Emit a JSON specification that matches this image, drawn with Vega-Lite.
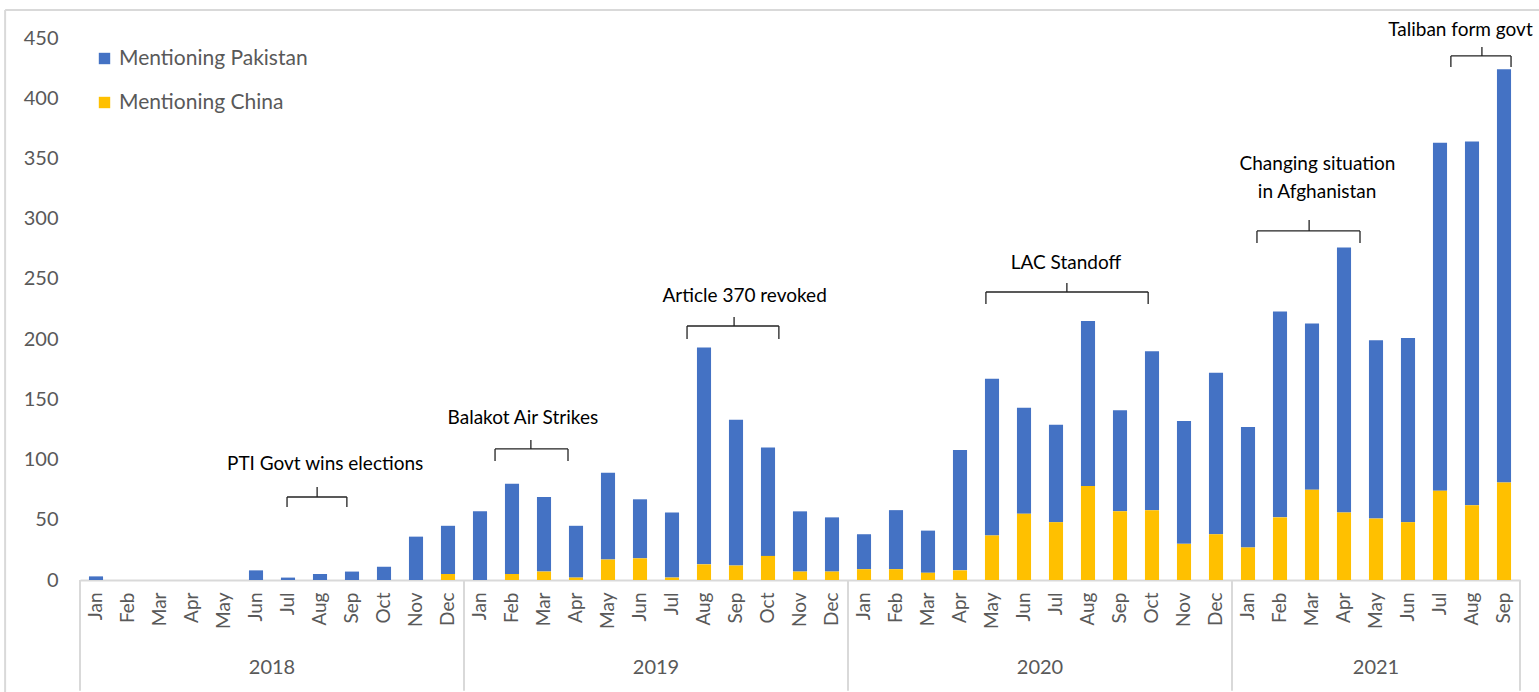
{
  "$schema": "https://vega.github.io/schema/vega-lite/v6.json",
  "width": 1440,
  "height": 542,
  "autosize": {"type": "none"},
  "padding": {"left": 80, "top": 38, "right": 19, "bottom": 112},
  "background": "white",
  "config": {"view": {"stroke": null}, "font": "Lato", "axis": {"grid": false}},
  "datasets": {
    "monthly": [
      {"ym": "2018-Jan", "Mentioning Pakistan": 3, "Mentioning China": 0},
      {"ym": "2018-Feb", "Mentioning Pakistan": 0, "Mentioning China": 0},
      {"ym": "2018-Mar", "Mentioning Pakistan": 0, "Mentioning China": 0},
      {"ym": "2018-Apr", "Mentioning Pakistan": 0, "Mentioning China": 0},
      {"ym": "2018-May", "Mentioning Pakistan": 0, "Mentioning China": 0},
      {"ym": "2018-Jun", "Mentioning Pakistan": 8, "Mentioning China": 0},
      {"ym": "2018-Jul", "Mentioning Pakistan": 2, "Mentioning China": 0},
      {"ym": "2018-Aug", "Mentioning Pakistan": 5, "Mentioning China": 0},
      {"ym": "2018-Sep", "Mentioning Pakistan": 7, "Mentioning China": 0},
      {"ym": "2018-Oct", "Mentioning Pakistan": 11, "Mentioning China": 0},
      {"ym": "2018-Nov", "Mentioning Pakistan": 36, "Mentioning China": 0},
      {"ym": "2018-Dec", "Mentioning Pakistan": 40, "Mentioning China": 5},
      {"ym": "2019-Jan", "Mentioning Pakistan": 57, "Mentioning China": 0},
      {"ym": "2019-Feb", "Mentioning Pakistan": 75, "Mentioning China": 5},
      {"ym": "2019-Mar", "Mentioning Pakistan": 62, "Mentioning China": 7},
      {"ym": "2019-Apr", "Mentioning Pakistan": 43, "Mentioning China": 2},
      {"ym": "2019-May", "Mentioning Pakistan": 72, "Mentioning China": 17},
      {"ym": "2019-Jun", "Mentioning Pakistan": 49, "Mentioning China": 18},
      {"ym": "2019-Jul", "Mentioning Pakistan": 54, "Mentioning China": 2},
      {"ym": "2019-Aug", "Mentioning Pakistan": 180, "Mentioning China": 13},
      {"ym": "2019-Sep", "Mentioning Pakistan": 121, "Mentioning China": 12},
      {"ym": "2019-Oct", "Mentioning Pakistan": 90, "Mentioning China": 20},
      {"ym": "2019-Nov", "Mentioning Pakistan": 50, "Mentioning China": 7},
      {"ym": "2019-Dec", "Mentioning Pakistan": 45, "Mentioning China": 7},
      {"ym": "2020-Jan", "Mentioning Pakistan": 29, "Mentioning China": 9},
      {"ym": "2020-Feb", "Mentioning Pakistan": 49, "Mentioning China": 9},
      {"ym": "2020-Mar", "Mentioning Pakistan": 35, "Mentioning China": 6},
      {"ym": "2020-Apr", "Mentioning Pakistan": 100, "Mentioning China": 8},
      {"ym": "2020-May", "Mentioning Pakistan": 130, "Mentioning China": 37},
      {"ym": "2020-Jun", "Mentioning Pakistan": 88, "Mentioning China": 55},
      {"ym": "2020-Jul", "Mentioning Pakistan": 81, "Mentioning China": 48},
      {"ym": "2020-Aug", "Mentioning Pakistan": 137, "Mentioning China": 78},
      {"ym": "2020-Sep", "Mentioning Pakistan": 84, "Mentioning China": 57},
      {"ym": "2020-Oct", "Mentioning Pakistan": 132, "Mentioning China": 58},
      {"ym": "2020-Nov", "Mentioning Pakistan": 102, "Mentioning China": 30},
      {"ym": "2020-Dec", "Mentioning Pakistan": 134, "Mentioning China": 38},
      {"ym": "2021-Jan", "Mentioning Pakistan": 100, "Mentioning China": 27},
      {"ym": "2021-Feb", "Mentioning Pakistan": 171, "Mentioning China": 52},
      {"ym": "2021-Mar", "Mentioning Pakistan": 138, "Mentioning China": 75},
      {"ym": "2021-Apr", "Mentioning Pakistan": 220, "Mentioning China": 56},
      {"ym": "2021-May", "Mentioning Pakistan": 148, "Mentioning China": 51},
      {"ym": "2021-Jun", "Mentioning Pakistan": 153, "Mentioning China": 48},
      {"ym": "2021-Jul", "Mentioning Pakistan": 289, "Mentioning China": 74},
      {"ym": "2021-Aug", "Mentioning Pakistan": 302, "Mentioning China": 62},
      {"ym": "2021-Sep", "Mentioning Pakistan": 343, "Mentioning China": 81}
    ],
    "brackets": [
      {"x1": 5.97, "x2": 5.97, "y1": 60.6, "y2": 68.9},
      {"x1": 5.97, "x2": 7.84, "y1": 68.9, "y2": 68.9},
      {"x1": 7.84, "x2": 7.84, "y1": 60.6, "y2": 68.9},
      {"x1": 6.91, "x2": 6.91, "y1": 68.9, "y2": 77.2},
      {"x1": 12.47, "x2": 12.47, "y1": 98.8, "y2": 108.8},
      {"x1": 12.47, "x2": 14.75, "y1": 108.8, "y2": 108.8},
      {"x1": 14.75, "x2": 14.75, "y1": 98.8, "y2": 108.8},
      {"x1": 13.59, "x2": 13.59, "y1": 108.8, "y2": 116.2},
      {"x1": 18.47, "x2": 18.47, "y1": 200.1, "y2": 210.9},
      {"x1": 18.47, "x2": 21.34, "y1": 210.9, "y2": 210.9},
      {"x1": 21.34, "x2": 21.34, "y1": 200.1, "y2": 210.9},
      {"x1": 19.94, "x2": 19.94, "y1": 210.9, "y2": 218.4},
      {"x1": 27.81, "x2": 27.81, "y1": 229.2, "y2": 239.1},
      {"x1": 27.81, "x2": 32.88, "y1": 239.1, "y2": 239.1},
      {"x1": 32.88, "x2": 32.88, "y1": 229.2, "y2": 239.1},
      {"x1": 30.34, "x2": 30.34, "y1": 239.1, "y2": 246.6},
      {"x1": 36.28, "x2": 36.28, "y1": 279.8, "y2": 289.8},
      {"x1": 36.28, "x2": 39.5, "y1": 289.8, "y2": 289.8},
      {"x1": 39.5, "x2": 39.5, "y1": 279.8, "y2": 289.8},
      {"x1": 37.91, "x2": 37.91, "y1": 289.8, "y2": 298.9},
      {"x1": 42.34, "x2": 42.34, "y1": 425.9, "y2": 435.1},
      {"x1": 42.34, "x2": 44.22, "y1": 435.1, "y2": 435.1},
      {"x1": 44.22, "x2": 44.22, "y1": 425.9, "y2": 435.1},
      {"x1": 43.31, "x2": 43.31, "y1": 435.1, "y2": 442.5}
    ],
    "labels": [
      {"pos": 7.16, "level": 96.3, "text": "PTI Govt wins elections"},
      {"pos": 13.34, "level": 134.5, "text": "Balakot Air Strikes"},
      {"pos": 20.27, "level": 235.8, "text": "Article 370 revoked"},
      {"pos": 30.31, "level": 263.2, "text": "LAC Standoff"},
      {"pos": 38.17, "level": 345.4, "text": "Changing situation"},
      {"pos": 38.16, "level": 322.1, "text": "in Afghanistan"},
      {"pos": 42.64, "level": 456.6, "text": "Taliban form govt"}
    ],
    "separators": [
      {"pos": -0.5}, {"pos": 11.5}, {"pos": 23.5}, {"pos": 35.5}, {"pos": 44.5}
    ],
    "years": [
      {"pos": 5.5, "year": "2018"},
      {"pos": 17.5, "year": "2019"},
      {"pos": 29.5, "year": "2020"},
      {"pos": 40, "year": "2021"}
    ],
    "frame": [
      {"x1": -2.84, "x2": 45.2, "y1": 473.3, "y2": 473.3},
      {"x1": -2.84, "x2": -2.84, "y1": 473.3, "y2": -95}
    ]
  },
  "resolve": {"scale": {"x": "independent"}, "axis": {"x": "independent"}},
  "layer": [
    {
      "data": {"name": "monthly"},
      "transform": [{"fold": ["Mentioning Pakistan", "Mentioning China"], "as": ["series", "count"]}],
      "mark": {"type": "bar"},
      "encoding": {
        "x": {
          "field": "ym", "type": "nominal", "sort": null,
          "scale": {"paddingInner": 0.56, "paddingOuter": 0.28},
          "axis": {"title": null, "labelExpr": "substring(datum.value, 5)", "labelAngle": -90, "labelFontSize": 19, "labelColor": "#595959", "labelFont": "Lato", "labelPadding": 12, "ticks": false, "domainColor": "#d9d9d9", "domainWidth": 2}
        },
        "y": {
          "field": "count", "type": "quantitative", "stack": "zero",
          "scale": {"domain": [0, 450], "nice": false},
          "axis": {"title": null, "values": [0, 50, 100, 150, 200, 250, 300, 350, 400, 450], "labelFontSize": 20, "labelColor": "#595959", "labelFont": "Lato", "domain": false, "ticks": false, "labelPadding": 22}
        },
        "color": {
          "field": "series", "type": "nominal",
          "sort": ["Mentioning Pakistan", "Mentioning China"],
          "scale": {"domain": ["Mentioning Pakistan", "Mentioning China"], "range": ["#4472C4", "#FFC000"]},
          "legend": {"title": null, "orient": "none", "legendX": 14, "legendY": 10, "direction": "vertical", "symbolType": "square", "symbolSize": 130, "symbolStrokeWidth": 0, "labelFontSize": 21, "labelColor": "#595959", "labelFont": "Lato", "labelLimit": 0, "rowPadding": 22, "labelOffset": 4}
        },
        "order": {"field": "series", "sort": "ascending"}
      }
    },
    {
      "data": {"name": "separators"},
      "mark": {"type": "rule", "color": "#d9d9d9", "strokeWidth": 2},
      "encoding": {
        "x": {"field": "pos", "type": "quantitative", "scale": {"domain": [-0.5, 44.5], "nice": false, "zero": false}, "axis": null},
        "y": {"datum": 0, "type": "quantitative"},
        "y2": {"datum": -92}
      }
    },
    {
      "data": {"name": "brackets"},
      "mark": {"type": "rule", "color": "#222222", "strokeWidth": 1.3},
      "encoding": {
        "x": {"field": "x1", "type": "quantitative", "scale": {"domain": [-0.5, 44.5], "nice": false, "zero": false}, "axis": null},
        "x2": {"field": "x2"},
        "y": {"field": "y1", "type": "quantitative"},
        "y2": {"field": "y2"}
      }
    },
    {
      "data": {"name": "labels"},
      "mark": {"type": "text", "align": "center", "baseline": "middle", "fontSize": 19, "font": "Lato", "color": "#000000"},
      "encoding": {
        "x": {"field": "pos", "type": "quantitative", "scale": {"domain": [-0.5, 44.5], "nice": false, "zero": false}, "axis": null},
        "y": {"field": "level", "type": "quantitative"},
        "text": {"field": "text"}
      }
    },
    {
      "data": {"name": "years"},
      "mark": {"type": "text", "align": "center", "baseline": "middle", "fontSize": 20, "font": "Lato", "color": "#595959"},
      "encoding": {
        "x": {"field": "pos", "type": "quantitative", "scale": {"domain": [-0.5, 44.5], "nice": false, "zero": false}, "axis": null},
        "y": {"datum": -73, "type": "quantitative"},
        "text": {"field": "year"}
      }
    },
    {
      "data": {"name": "frame"},
      "mark": {"type": "rule", "color": "#d9d9d9", "strokeWidth": 2},
      "encoding": {
        "x": {"field": "x1", "type": "quantitative", "scale": {"domain": [-0.5, 44.5], "nice": false, "zero": false}, "axis": null},
        "x2": {"field": "x2"},
        "y": {"field": "y1", "type": "quantitative"},
        "y2": {"field": "y2"}
      }
    }
  ]
}
